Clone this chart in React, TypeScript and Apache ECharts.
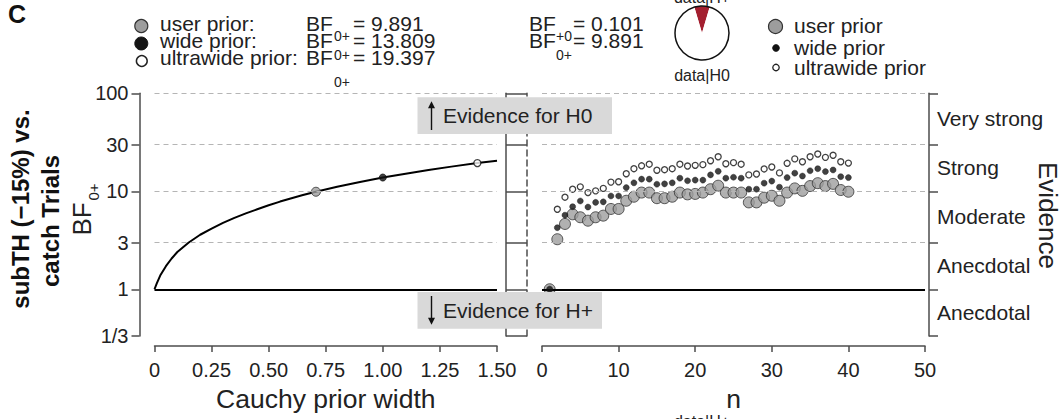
import React, { useEffect, useRef } from 'react';
import * as echarts from 'echarts';

// Robustness check: BF0+ as a function of the Cauchy prior width
const priorWidthGrid = [0, 0.01, 0.025, 0.05, 0.075, 0.1, 0.15, 0.2, 0.25, 0.3, 0.35, 0.4, 0.45, 0.5, 0.55, 0.6, 0.65,
  0.707, 0.8, 0.9, 1.0, 1.1, 1.2, 1.3, 1.414, 1.5];
const robustnessBF = [1, 1.15, 1.38, 1.72, 2.06, 2.4, 3.0, 3.6, 4.15, 4.75, 5.35, 5.95, 6.55, 7.2, 7.85, 8.5, 9.15,
  9.891, 11.1, 12.45, 13.809, 15.1, 16.5, 17.85, 19.397, 20.5];

// The three reference priors
const priorLabels = ['user prior:', 'wide prior:', 'ultrawide prior:'];
const priorLegend = ['user prior', 'wide prior', 'ultrawide prior'];
const priorWidths = [0.707, 1.0, 1.414];
const priorBF = [9.891, 13.809, 19.397];

// Pie: data|H+ versus data|H0
const bfPlus0 = 0.101;
const bf0Plus = 9.891;

// Sequential analysis (n = 1 ... 40)
const sampleN = [1, 2, 3, 4, 5, 6, 7, 8, 9, 10, 11, 12, 13, 14, 15, 16, 17, 18, 19, 20,
  21, 22, 23, 24, 25, 26, 27, 28, 29, 30, 31, 32, 33, 34, 35, 36, 37, 38, 39, 40];
const seqUser = [1, 3.24, 4.64, 5.82, 5.43, 5.01, 5.43, 5.64, 6.6, 6.6, 8.0, 8.8, 9.7, 9.7, 8.5, 8.5, 8.8, 9.7, 9.3, 9.4,
  9.7, 10.5, 11.4, 9.7, 9.7, 9.7, 7.7, 7.7, 8.6, 9.0, 8.0, 9.7, 10.7, 10.1, 11.3, 12.1, 11.3, 11.9, 10.3, 9.891];
const seqWide = [1, 4.25, 5.7, 6.96, 7.96, 6.9, 7.7, 7.8, 8.95, 8.95, 10.9, 12.2, 13.3, 13.3, 11.8, 11.9, 12.2, 13.6, 12.8, 13.0,
  13.0, 14.7, 16.0, 13.6, 13.9, 13.6, 10.5, 10.5, 12.1, 12.7, 11.0, 13.8, 15.3, 14.3, 16.2, 17.0, 15.9, 16.5, 14.1, 13.809];
const seqUltra = [1, 6.55, 8.7, 10.5, 11.1, 9.7, 10.1, 10.7, 12.4, 12.5, 15.1, 17.0, 18.2, 18.9, 16.4, 16.6, 17.0, 18.9, 18.1, 18.4,
  18.7, 20.5, 22.5, 19.1, 19.6, 18.9, 14.7, 15.0, 16.9, 17.7, 15.4, 19.3, 21.4, 20.0, 22.5, 24.0, 22.2, 23.3, 20.0, 19.397];

// Bayes factor axis
const bfTicks = [1 / 3, 1, 3, 10, 30, 100];
const bfTickLabels = ['1/3', '1', '3', '10', '30', '100'];
const evidenceLabels = ['Anecdotal', 'Anecdotal', 'Moderate', 'Strong', 'Very strong'];
const widthTicks = [0, 0.25, 0.5, 0.75, 1.0, 1.25, 1.5];
const nTicks = [0, 10, 20, 30, 40, 50];

const FONT = '"Liberation Sans", Arial, Helvetica, sans-serif';
const AX = '#4d4d4d';
const TXT = '#222222';
const GRIDC = '#b5b5b5';
const GRAY = '#9d9d9d';
const RED = '#a31f2f';

const lg = (v: number) => Math.log10(v);
const tickLogs = bfTicks.map(lg);
const bandLogs = tickLogs.slice(0, -1).map((t, i) => (t + tickLogs[i + 1]) / 2);
const pick = (v: number, vals: number[], labels: string[]) => {
  const i = vals.findIndex((t) => Math.abs(t - v) < 1e-6);
  return i >= 0 ? labels[i] : '';
};

const bfMarkLines = {
  silent: true,
  symbol: ['none', 'none'],
  label: { show: false },
  animation: false,
  data: [
    ...bfTicks.filter((v) => v !== 1).map((v) => ({ yAxis: lg(v), lineStyle: { color: GRIDC, type: [5, 4], width: 1.2 } })),
    { yAxis: lg(1), lineStyle: { color: '#000', type: 'solid', width: 2 } },
  ],
};

const axisLineStyle = { show: true, onZero: false, lineStyle: { color: AX, width: 1.5 } };
const tickStyle = { color: AX, width: 1.5 };
const labelStyle = { color: TXT, fontSize: 20, fontFamily: FONT };

function text(x: number, y: number, str: string, extra: any = {}, elExtra: any = {}) {
  return {
    type: 'text',
    x,
    y,
    z: 100,
    silent: true,
    ...elExtra,
    style: {
      text: str,
      fontFamily: FONT,
      fontSize: 21,
      fill: TXT,
      textAlign: 'left',
      textVerticalAlign: 'middle',
      ...extra,
    },
  };
}

function buildGraphics() {
  const g: any[] = [];
  // panel letter
  g.push(text(8, 14, 'C', { fontSize: 25, fontWeight: 'bold', fill: '#111' }));

  // left legend: prior markers, names and BF values
  const rowY = [23.2, 40.8, 57.8];
  const subY = [36.3, 55, 82.3];
  const markerY = [26, 43.5, 61];
  g.push({ type: 'circle', z: 100, shape: { cx: 141.3, cy: markerY[0], r: 6.5 }, style: { fill: GRAY, stroke: '#333', lineWidth: 1.2 } });
  g.push({ type: 'circle', z: 100, shape: { cx: 141.3, cy: markerY[1], r: 6.5 }, style: { fill: '#141414', stroke: '#141414', lineWidth: 1 } });
  g.push({ type: 'circle', z: 100, shape: { cx: 141.8, cy: markerY[2], r: 5.4 }, style: { fill: '#fff', stroke: '#222', lineWidth: 1.5 } });
  priorLabels.forEach((lab, i) => {
    g.push(text(160, rowY[i], lab));
    g.push(text(306, rowY[i], 'BF'));
    g.push(text(334, subY[i], '0+', { fontSize: 14 }));
    g.push(text(353, rowY[i], '= ' + priorBF[i].toFixed(3)));
  });

  // directional Bayes factors
  g.push(text(529, rowY[0], 'BF'));
  g.push(text(556, subY[0], '+0', { fontSize: 14 }));
  g.push(text(573, rowY[0], '= ' + bfPlus0.toFixed(3)));
  g.push(text(529, rowY[1], 'BF'));
  g.push(text(556, subY[1], '0+', { fontSize: 14 }));
  g.push(text(573, rowY[1], '= ' + bf0Plus.toFixed(3)));

  // pie outline and labels
  g.push({ type: 'circle', z: 100, shape: { cx: 702, cy: 33, r: 27 }, style: { fill: 'none', stroke: '#111', lineWidth: 1.5 } });
  g.push(text(702, -2.5, 'data|H+', { fontSize: 16, textAlign: 'center' }));
  g.push(text(702, 75.5, 'data|H0', { fontSize: 16, textAlign: 'center' }));
  g.push(text(702, 421, 'data|H+', { fontSize: 16, textAlign: 'center' }));

  // right legend
  g.push({ type: 'circle', z: 100, shape: { cx: 775.5, cy: 26.5, r: 7 }, style: { fill: GRAY, stroke: '#333', lineWidth: 1.2 } });
  g.push({ type: 'circle', z: 100, shape: { cx: 776, cy: 48, r: 3.4 }, style: { fill: '#111', stroke: '#111', lineWidth: 0.8 } });
  g.push({ type: 'circle', z: 100, shape: { cx: 776, cy: 67.5, r: 3.2 }, style: { fill: '#fff', stroke: '#222', lineWidth: 1.3 } });
  const legY = [25, 47, 67];
  priorLegend.forEach((lab, i) => g.push(text(794, legY[i], lab)));

  // y titles (rotated)
  g.push(text(0, 0, 'subTH (\u221215%) vs.', { fontSize: 24, fontWeight: 'bold', textAlign: 'center', fill: '#111' }, { x: 20.5, y: 209, rotation: Math.PI / 2 }));
  g.push(text(0, 0, 'catch Trials', { fontSize: 24, fontWeight: 'bold', textAlign: 'center', fill: '#111' }, { x: 50.5, y: 221, rotation: Math.PI / 2 }));
  g.push(text(0, 0, 'BF', { fontSize: 26, textAlign: 'center' }, { x: 82, y: 219, rotation: Math.PI / 2 }));
  g.push(text(0, 0, '0+', { fontSize: 15, textAlign: 'center' }, { x: 93, y: 192, rotation: Math.PI / 2 }));
  // evidence category title on the right
  g.push(text(0, 0, 'Evidence', { fontSize: 26, textAlign: 'center' }, { x: 1048, y: 215.5, rotation: -Math.PI / 2 }));

  // evidence direction boxes
  const boxes = [
    { top: 97.3, bottom: 134, right: 612, label: 'Evidence for H0', up: true },
    { top: 292, bottom: 328.7, right: 602, label: 'Evidence for H+', up: false },
  ];
  boxes.forEach((b) => {
    const left = 417.5;
    g.push({ type: 'rect', z: 90, shape: { x: left, y: b.top, width: b.right - left, height: b.bottom - b.top }, style: { fill: '#d9d9d9' } });
    const cx = 431.5;
    const y1 = b.top + 4;
    const y2 = b.bottom - 4;
    g.push({ type: 'line', z: 100, shape: { x1: cx, y1: b.up ? y2 : y1, x2: cx, y2: b.up ? y1 + 4 : y2 - 4 }, style: { stroke: '#111', lineWidth: 1.4 } });
    const tip = b.up ? y1 : y2;
    const base = b.up ? y1 + 7 : y2 - 7;
    g.push({ type: 'polygon', z: 100, shape: { points: [[cx - 3.5, base], [cx, tip], [cx + 3.5, base]] }, style: { fill: '#111' } });
    g.push(text(443, (b.top + b.bottom) / 2, b.label));
  });
  return g;
}

function buildOption(): any {
  return {
    animation: false,
    backgroundColor: '#ffffff',
    textStyle: { fontFamily: FONT },
    grid: [
      { left: 154.5, top: 93.3, width: 342.5, height: 242.7, containLabel: false, outerBoundsMode: 'none' },
      { left: 542, top: 93.3, width: 383, height: 242.7, containLabel: false, outerBoundsMode: 'none' },
    ],
    xAxis: [
      {
        gridIndex: 0, type: 'value', min: 0, max: 1.5, interval: 0.25, position: 'bottom', offset: 10,
        axisLine: axisLineStyle,
        axisTick: { show: true, length: 6, lineStyle: tickStyle },
        axisLabel: { ...labelStyle, margin: 14, formatter: (v: number) => (v === 0 ? '0' : v.toFixed(2)), customValues: widthTicks },
        splitLine: { show: false },
        name: 'Cauchy prior width', nameLocation: 'middle', nameGap: 39,
        nameTextStyle: { fontSize: 26.5, color: TXT, fontFamily: FONT },
      },
      {
        gridIndex: 1, type: 'value', min: 0, max: 50, interval: 10, position: 'bottom', offset: 10,
        axisLine: axisLineStyle,
        axisTick: { show: true, length: 6, lineStyle: tickStyle },
        axisLabel: { ...labelStyle, margin: 14, customValues: nTicks },
        splitLine: { show: false },
        name: 'n', nameLocation: 'middle', nameGap: 39,
        nameTextStyle: { fontSize: 26.5, color: TXT, fontFamily: FONT },
      },
    ],
    yAxis: [
      {
        gridIndex: 0, type: 'value', min: lg(1 / 3), max: lg(100), position: 'left', offset: 15,
        axisLine: axisLineStyle,
        axisTick: { show: true, length: 8, lineStyle: tickStyle, customValues: tickLogs },
        axisLabel: { ...labelStyle, margin: 11, customValues: tickLogs, formatter: (v: number) => pick(v, tickLogs, bfTickLabels) },
        splitLine: { show: false },
      },
      {
        gridIndex: 1, type: 'value', min: lg(1 / 3), max: lg(100), position: 'right', offset: 4,
        axisLine: axisLineStyle,
        axisTick: { show: true, length: 9, lineStyle: tickStyle, customValues: tickLogs },
        axisLabel: { ...labelStyle, fontSize: 21, margin: 8, customValues: bandLogs, formatter: (v: number) => pick(v, bandLogs, evidenceLabels) },
        splitLine: { show: false },
      },
      {
        gridIndex: 0, type: 'value', min: lg(1 / 3), max: lg(100), position: 'right', offset: 9,
        axisLine: axisLineStyle,
        axisTick: { show: true, length: 21, lineStyle: tickStyle, customValues: tickLogs },
        axisLabel: { show: false },
        splitLine: { show: false },
      },
      {
        gridIndex: 1, type: 'value', min: lg(1 / 3), max: lg(100), position: 'left', offset: 15,
        axisLine: { show: true, onZero: false, lineStyle: { color: AX, width: 1.5, type: [6, 4] } },
        axisTick: { show: false },
        axisLabel: { show: false },
        splitLine: { show: false },
      },
    ],
    series: [
      {
        type: 'line', xAxisIndex: 0, yAxisIndex: 0, silent: true,
        data: priorWidthGrid.map((w, i) => [w, lg(robustnessBF[i])]),
        showSymbol: false, symbol: 'none', smooth: false,
        lineStyle: { color: '#000', width: 2 },
        markLine: bfMarkLines,
        z: 3,
      },
      ...priorWidths.map((w, i) => ({
        type: 'scatter', xAxisIndex: 0, yAxisIndex: 0, silent: true,
        data: [[w, lg(priorBF[i])]],
        symbolSize: i === 0 ? 9 : 7,
        itemStyle: i === 0
          ? { color: GRAY, borderColor: '#333', borderWidth: 1 }
          : i === 1
            ? { color: '#111', borderColor: '#111', borderWidth: 1 }
            : { color: '#fff', borderColor: '#111', borderWidth: 1.3 },
        z: 4,
      })),
      {
        type: 'scatter', xAxisIndex: 1, yAxisIndex: 1, silent: true,
        data: sampleN.map((n, k) => [n, lg(seqUltra[k])]),
        symbolSize: 6,
        itemStyle: { color: '#fff', borderColor: '#111', borderWidth: 1.3 },
        markLine: bfMarkLines,
        z: 3,
      },
      {
        type: 'scatter', xAxisIndex: 1, yAxisIndex: 1, silent: true,
        data: sampleN.map((n, k) => [n, lg(seqUser[k])]),
        symbolSize: 11,
        itemStyle: { color: GRAY, borderColor: '#333', borderWidth: 1 },
        z: 4,
      },
      {
        type: 'scatter', xAxisIndex: 1, yAxisIndex: 1, silent: true,
        data: sampleN.map((n, k) => [n, lg(seqWide[k])]),
        symbolSize: 6,
        itemStyle: { color: '#111', borderColor: '#111', borderWidth: 0.5 },
        z: 5,
      },
      {
        type: 'pie', silent: true, center: [702, 33], radius: 27,
        startAngle: 90 + (bfPlus0 / (1 + bfPlus0)) * 180, clockwise: true,
        label: { show: false }, labelLine: { show: false },
        itemStyle: { borderWidth: 0 },
        emphasis: { disabled: true },
        data: [
          { name: 'data|H+', value: bfPlus0, itemStyle: { color: RED } },
          { name: 'data|H0', value: 1, itemStyle: { color: '#ffffff' } },
        ],
      },
    ],
    graphic: { elements: buildGraphics() },
  };
}

export default function App() {
  const ref = useRef<HTMLDivElement>(null);
  useEffect(() => {
    if (!ref.current) return;
    const chart = echarts.init(ref.current, null, { renderer: 'svg' });
    chart.setOption(buildOption());
    return () => chart.dispose();
  }, []);
  return (
    <div
      ref={ref}
      style={{ position: 'fixed', left: 0, top: 0, width: 1059, height: 419, background: '#fff' }}
    />
  );
}
